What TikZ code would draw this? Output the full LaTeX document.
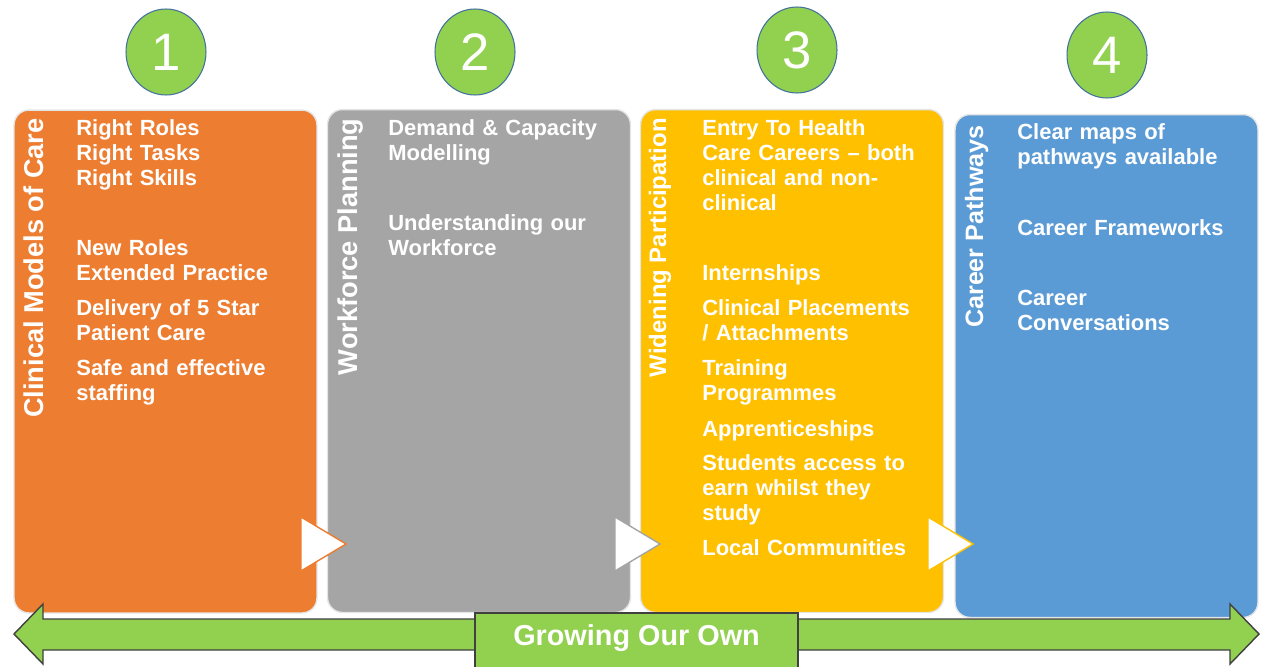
\documentclass[tikz,border=0pt]{standalone}
\usepackage{fontspec}
\setmainfont{Liberation Sans}
\usetikzlibrary{shapes.geometric}

\definecolor{cmcorange}{HTML}{ED7D31}
\definecolor{wfpgrey}{HTML}{A5A5A5}
\definecolor{wpyellow}{HTML}{FFC000}
\definecolor{cpblue}{HTML}{5B9BD5}
\definecolor{googreen}{HTML}{92D050}
\definecolor{ringblue}{HTML}{41719C}

\tikzset{
 panel/.style={rectangle, rounded corners=0.3cm, draw=black!10, line width=0.8pt,
   minimum width=6.06cm, minimum height=10.06cm, inner sep=0},
 stage/.style={ellipse, fill=googreen, draw=ringblue, line width=0.6pt,
   minimum width=1.6cm, minimum height=1.72cm, inner sep=0, text=white,
   font=\fontsize{30}{32}\selectfont},
 sidelabel/.style={rotate=90, anchor=base east, text=white, inner sep=0,
   font=\fontsize{15.5}{18}\selectfont\bfseries},
 points/.style={anchor=base west, text=white, inner sep=0, align=left,
   text width=4.9cm, font=\fontsize{12.5}{14.23}\selectfont\bfseries},
 flow/.style={fill=white, line width=0.8pt},
}

\begin{document}
\begin{tikzpicture}[x=0.02cm, y=-0.02cm]
 \useasboundingbox (0,0) rectangle (1267,666);

 % the four panels
 \node[panel, fill=cmcorange] (cmc) at (165.5,361.5) {};
 \node[panel, fill=wfpgrey] (wfp) at (479,361) {};
 \node[panel, fill=wpyellow] (wpa) at (792,361) {};
 \node[panel, fill=cpblue] (cpw) at (1106.5,366) {};

 \node[stage] (one) at (166,52) {1};
 \node[stage] (two) at (475,52) {2};
 \node[stage] (three) at (797,50) {3};
 \node[stage] (four) at (1107,55) {4};

 \node[sidelabel] (cmctitle) at (43,118) {Clinical Models of Care};
 \node[sidelabel] (wfptitle) at (357,118) {Workforce Planning};
 \node[sidelabel, font=\fontsize{13.6}{16}\selectfont\bfseries] (wpatitle) at (666,118) {Widening Participation};
 \node[sidelabel, font=\fontsize{14.3}{17}\selectfont\bfseries] (cpwtitle) at (983,125) {Career Pathways};

 % panel 1
 \node[points] (cmca) at (76,135) {Right Roles\\Right Tasks\\Right Skills};
 \node[points] (cmcb) at (76,255) {New Roles\\Extended Practice};
 \node[points] (cmcc) at (76,315) {Delivery of 5 Star\\Patient Care};
 \node[points] (cmcd) at (76,375) {Safe and effective\\staffing};

 % panel 2
 \node[points] (wfpa) at (388,135) {Demand \& Capacity\\Modelling};
 \node[points] (wfpb) at (388,230) {Understanding our\\Workforce};

 % panel 3
 \node[points] (wpaa) at (702,135) {Entry To Health\\Care Careers -- both\\clinical and non-\\clinical};
 \node[points] (wpab) at (702,280) {Internships};
 \node[points] (wpac) at (702,315) {Clinical Placements\\/ Attachments};
 \node[points] (wpad) at (702,375) {Training\\Programmes};
 \node[points] (wpae) at (702,436) {Apprenticeships};
 \node[points] (wpaf) at (702,470) {Students access to\\earn whilst they\\study};
 \node[points] (wpag) at (702,555) {Local Communities};

 % panel 4
 \node[points] (cpwa) at (1017,139) {Clear maps of\\pathways available};
 \node[points] (cpwb) at (1017,235) {Career Frameworks};
 \node[points] (cpwc) at (1017,305) {Career\\Conversations};

 % chevrons between panels
 \draw[flow, draw=cmcorange] (301,517) -- (301,571) -- (346,544) -- cycle;
 \draw[flow, draw=wfpgrey] (615,517) -- (615,571) -- (660,544) -- cycle;
 \draw[flow, draw=wpyellow] (928,517) -- (928,571) -- (973,544) -- cycle;

 % growing our own arrow
 \draw[fill=googreen, draw=black!75, line width=0.8pt] (14,634) -- (43,604) -- (43,619)
   -- (1230,619) -- (1230,604) -- (1259,634) -- (1230,664) -- (1230,650)
   -- (43,650) -- (43,664) -- cycle;
 \draw[fill=googreen, draw=black!75, line width=0.8pt] (475,613) rectangle (798,690);
 \node[anchor=base, text=white, inner sep=0, font=\fontsize{16.4}{18}\selectfont\bfseries] (grow) at (636.5,645) {Growing Our Own};

\end{tikzpicture}
\end{document}
